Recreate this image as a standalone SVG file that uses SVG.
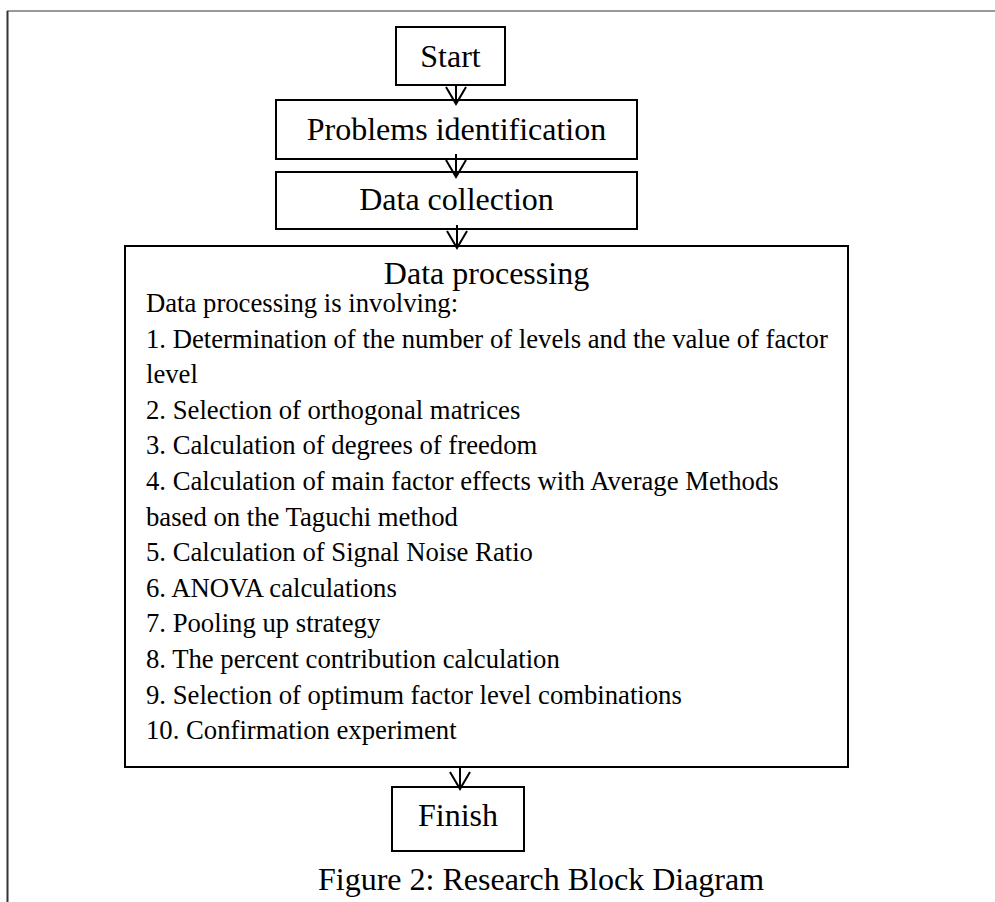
<svg xmlns="http://www.w3.org/2000/svg" width="995" height="902" viewBox="0 0 995 902">
  <style>
    .box { fill: #fff; stroke: #000; stroke-width: 2; }
    .big { font-family: "Liberation Serif", "Times New Roman", serif; font-size: 32px; fill: #000; }
    .body { font-family: "Liberation Serif", "Times New Roman", serif; font-size: 26.7px; fill: #000; }
    .link { fill: none; stroke: #000; stroke-width: 2; }
    .head { fill: none; stroke: #000; stroke-width: 2; stroke-linejoin: miter; }
  </style>

  <rect width="995" height="902" fill="#fff"/>

  <!-- page frame -->
  <g id="frame">
    <line x1="7" y1="11" x2="995" y2="11" stroke="#777" stroke-width="1.5"/>
    <line x1="7.5" y1="11" x2="7.5" y2="902" stroke="#333" stroke-width="2"/>
  </g>

  <g id="start">
    <rect class="box" x="396" y="27" width="109" height="58"/>
    <text class="big" x="450.5" y="67" text-anchor="middle">Start</text>
  </g>

  <g id="problems">
    <rect class="box" x="276" y="100" width="361" height="59"/>
    <text class="big" x="456.5" y="140" text-anchor="middle">Problems identification</text>
  </g>

  <g id="collection">
    <rect class="box" x="276" y="172" width="361" height="57"/>
    <text class="big" x="456.5" y="210" text-anchor="middle">Data collection</text>
  </g>

  <g id="processing">
    <rect class="box" x="125" y="246" width="723" height="521"/>
    <text class="big" x="486.5" y="284" text-anchor="middle">Data processing</text>
    <text class="body" x="146">
      <tspan x="146" y="312">Data processing is involving:</tspan>
      <tspan x="146" y="347.6">1. Determination of the number of levels and the value of factor</tspan>
      <tspan x="146" y="383.2">level</tspan>
      <tspan x="146" y="418.8">2. Selection of orthogonal matrices</tspan>
      <tspan x="146" y="454.4">3. Calculation of degrees of freedom</tspan>
      <tspan x="146" y="490">4. Calculation of main factor effects with Average Methods</tspan>
      <tspan x="146" y="525.6">based on the Taguchi method</tspan>
      <tspan x="146" y="561.2">5. Calculation of Signal Noise Ratio</tspan>
      <tspan x="146" y="596.8">6. ANOVA calculations</tspan>
      <tspan x="146" y="632.4">7. Pooling up strategy</tspan>
      <tspan x="146" y="668">8. The percent contribution calculation</tspan>
      <tspan x="146" y="703.6">9. Selection of optimum factor level combinations</tspan>
      <tspan x="146" y="739.2">10. Confirmation experiment</tspan>
    </text>
  </g>

  <g id="finish">
    <rect class="box" x="392" y="787" width="132" height="64"/>
    <text class="big" x="458" y="826" text-anchor="middle">Finish</text>
  </g>

  <!-- connectors: shaft plus open V head -->
  <g id="connectors">
    <line class="link" x1="456" y1="85" x2="456" y2="104"/>
    <path class="head" d="M446,87 L456,104 L466,87"/>
    <line class="link" x1="456" y1="154" x2="456" y2="177"/>
    <path class="head" d="M446,160 L456,177 L466,160"/>
    <line class="link" x1="457" y1="225" x2="457" y2="248"/>
    <path class="head" d="M447,231 L457,248 L467,231"/>
    <line class="link" x1="460" y1="767" x2="460" y2="789"/>
    <path class="head" d="M450,772 L460,789 L470,772"/>
  </g>

  <text id="caption" class="big" x="318" y="890">Figure 2: Research Block Diagram</text>
</svg>
